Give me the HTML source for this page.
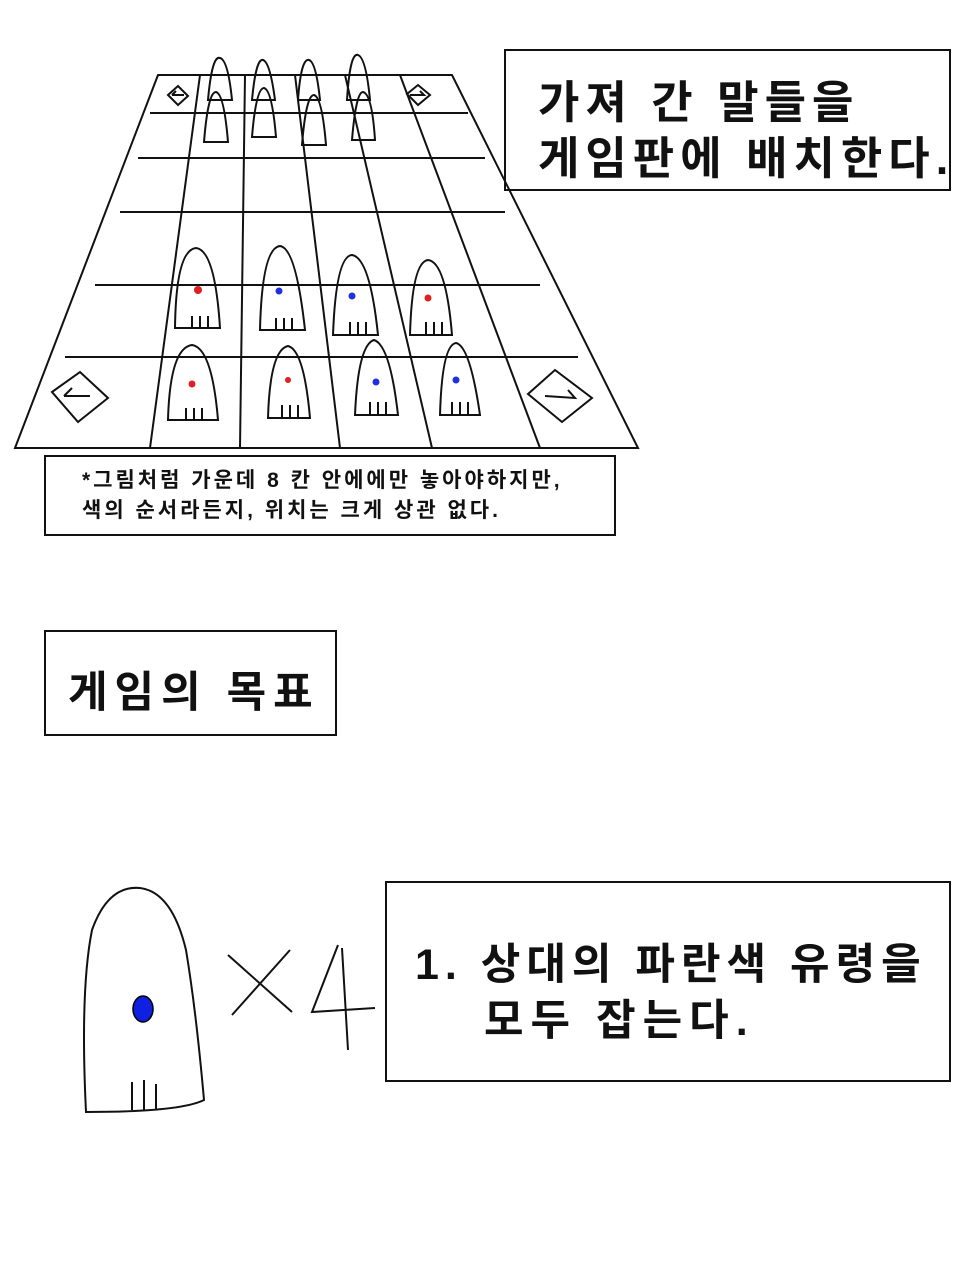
<!DOCTYPE html>
<html><head><meta charset="utf-8"><style>
body{margin:0;background:#fff;width:964px;height:1281px;position:relative;overflow:hidden;font-family:"Liberation Sans","Noto Sans CJK KR","NanumGothic",sans-serif}
.t{position:absolute;font-weight:bold;color:#111;white-space:nowrap}
</style></head><body>
<svg width="964" height="1281" style="position:absolute;left:0;top:0" fill="none" stroke="#111" stroke-width="2">
<path d="M158 75 L452 75 L638 448 L15 448 Z"/>
<path d="M150 113 L468 113 M138 158 L485 158 M120 212 L505 212 M95 285 L540 285 M65 357 L578 357"/>
<path d="M200 75 L150 448 M245 75 L240 448 M295 75 L340 448 M345 75 L432 448 M400 75 L540 448"/>
<path d="M168 95 L178 86 L188 96 L178 105Z M172 95 L184 95 M172 95 L176 91"/>
<path d="M407 94 L418 85 L430 95 L418 105Z M410 95 L424 95 L420 91"/>
<path d="M52 392 L80 372 L108 398 L78 422Z M64 396 L90 396 M64 396 L72 388"/>
<path d="M528 394 L555 370 L592 398 L562 422Z M545 396 L575 398 L568 390"/>
<g>
<path d="M208 100 Q212 55 220 58 Q228 60 232 100Z M252 100 Q256 58 263 60 Q270 62 275 100Z M298 100 Q301 58 309 60 Q316 62 320 100Z M347 100 Q350 52 358 55 Q366 58 370 100Z"/>
<path d="M204 142 Q208 92 216 92 Q224 94 228 142Z M252 137 Q256 88 264 88 Q272 90 276 137Z M302 145 Q306 95 314 95 Q322 97 326 145Z M352 140 Q356 92 363 92 Q372 94 375 140Z"/>
</g>
<path d="M175 328 Q176 250 196 248 Q215 250 220 328 Z"/>
<path d="M192 316 L192 328 M200 316 L200 328 M208 316 L208 328"/>
<path d="M260 330 Q262 248 280 246 Q296 248 305 330Z M276 318V330 M284 318V330 M292 318V330"/>
<path d="M333 335 Q336 256 352 255 Q370 258 378 335Z M350 322V335 M358 322V335 M366 322V335"/>
<path d="M410 335 Q412 262 428 260 Q446 262 452 335Z M426 322V335 M434 322V335 M442 322V335"/>
<path d="M168 420 Q170 348 192 345 Q212 348 218 420Z M186 408V420 M194 408V420 M202 408V420"/>
<path d="M268 418 Q270 350 288 346 Q304 350 310 418Z M282 405V418 M290 405V418 M298 405V418"/>
<path d="M355 415 Q358 345 374 340 Q390 345 398 415Z M370 402V415 M378 402V415 M386 402V415"/>
<path d="M440 415 Q442 345 456 343 Q470 346 480 415Z M452 402V415 M460 402V415 M468 402V415"/>
<g stroke="none">
<circle cx="198" cy="290" r="4" fill="#e02020"/><circle cx="279" cy="291" r="3.5" fill="#2030e0"/>
<circle cx="352" cy="296" r="3.5" fill="#2030e0"/><circle cx="428" cy="298" r="3.5" fill="#e02020"/>
<circle cx="192" cy="384" r="3.5" fill="#e02020"/><circle cx="288" cy="380" r="3" fill="#e02020"/>
<circle cx="376" cy="382" r="3.5" fill="#2030e0"/><circle cx="456" cy="380" r="3.5" fill="#2030e0"/>
</g>
<rect x="505" y="50" width="445" height="140"/>
<rect x="45" y="456" width="570" height="79"/>
<rect x="45" y="631" width="291" height="104"/>
<rect x="386" y="882" width="564" height="199"/>
<path d="M86 1112 Q80 990 92 930 Q108 885 140 888 Q172 892 186 950 Q196 1010 204 1100 Q180 1112 86 1112Z"/>
<path d="M132 1082V1110 M144 1080V1110 M156 1084V1110"/>
<ellipse cx="143" cy="1009" rx="10" ry="13" fill="#1020e0" stroke="#000" stroke-width="1.5"/>
<path d="M228 955 L292 1012 M232 1015 L290 950 M338 945 L312 1012 L375 1008 M342 948 L348 1050"/>
</svg>
<div class="t" style="left:538px;top:66px;font-size:45px;letter-spacing:6px">가져 간 말들을</div>
<div class="t" style="left:538px;top:122px;font-size:45px;letter-spacing:6px">게임판에 배치한다.</div>
<div class="t" style="left:82px;top:464px;font-size:21px;letter-spacing:3px">*그림처럼 가운데 8 칸 안에에만 놓아야하지만,</div>
<div class="t" style="left:82px;top:494px;font-size:21px;letter-spacing:3px">색의 순서라든지, 위치는 크게 상관 없다.</div>
<div class="t" style="left:68px;top:658px;font-size:43px;letter-spacing:7px">게임의 목표</div>
<div class="t" style="left:415px;top:930px;font-size:43px;letter-spacing:6px">1. 상대의 파란색 유령을</div>
<div class="t" style="left:484px;top:986px;font-size:43px;letter-spacing:7px">모두 잡는다.</div>
</body></html>
